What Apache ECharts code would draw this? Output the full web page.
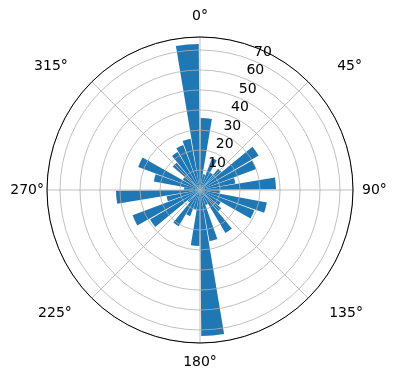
<!DOCTYPE html>
<html>
<head>
<meta charset="utf-8">
<script src="https://cdn.jsdelivr.net/npm/echarts@6/dist/echarts.min.js"></script>
<style>html,body{margin:0;padding:0;background:#fff}#c{width:396px;height:380px}</style>
</head>
<body>
<div id="c"></div>
<script>
// 36 direction sectors of 10 degrees, clockwise from north
var sectors = ['0','10','20','30','40','50','60','70','80','90','100','110','120','130','140','150','160','170',
  '180','190','200','210','220','230','240','250','260','270','280','290','300','310','320','330','340','350'];
var values = [36, 8, 17, 10, 14, 34, 30, 18, 38, 10, 34, 29, 12, 14, 25, 8, 26, 73,
  28, 10, 14, 21, 8, 29, 36, 17, 42, 8, 23.5, 33, 10, 18, 22, 24, 26, 73];
var radialTicks = [10, 20, 30, 40, 50, 60, 70];
var angleTicks = [0, 45, 90, 135, 180, 225, 270, 315];
var rMax = 76.5;

var chart = echarts.init(document.getElementById('c'), null, {renderer: 'canvas'});
var center = [200, 190], radius = 153;
var font = 'DejaVu Sans';
var fs = 14;
function pad(p) { return {padding: p, fontSize: fs, fontFamily: font, color: '#000'}; }
var angleRich = {
  a0: pad([0, 0, 14, 0]),
  a45: pad([0, 0, 8, 29]),
  a90: pad([0, 0, 0, 9]),
  a135: pad([8, 0, 0, 21]),
  a180: pad([12, 0, 0, 0]),
  a225: pad([8, 20, 0, 0]),
  a270: pad([0, 3, 0, 0]),
  a315: pad([0, 24, 8, 0])
};
chart.setOption({
  animation: false,
  polar: [
    {center: center, radius: radius},
    {center: [209.4, 181.5], radius: radius},
    {center: center, radius: radius}
  ],
  angleAxis: [
    {polarIndex: 0, type: 'value', min: 0, max: 360, interval: 45, startAngle: 90, clockwise: true, z: 5,
      axisLine: {show: true, lineStyle: {color: '#000', width: 1}},
      axisTick: {show: false},
      splitLine: {show: true, lineStyle: {color: '#b0b0b0', width: 0.8}},
      axisLabel: {show: true, margin: 0, color: '#000', fontSize: fs, fontFamily: font, rich: angleRich,
        formatter: function (v) { return angleTicks.indexOf(v) >= 0 ? '{a' + v + '|' + v + '°}' : ''; }}},
    {polarIndex: 1, type: 'value', min: 0, max: 360, startAngle: 67.5, clockwise: true,
      axisLine: {show: false}, axisTick: {show: false}, splitLine: {show: false}, axisLabel: {show: false}},
    {polarIndex: 2, type: 'category', data: sectors, startAngle: 90, clockwise: true, boundaryGap: true,
      axisLine: {show: false}, axisTick: {show: false}, splitLine: {show: false}, axisLabel: {show: false}}
  ],
  radiusAxis: [
    {polarIndex: 0, type: 'value', min: 0, max: rMax, interval: 10, z: 5,
      axisLine: {show: false}, axisTick: {show: false}, axisLabel: {show: false},
      splitLine: {show: true, lineStyle: {color: '#b0b0b0', width: 0.8}}},
    {polarIndex: 1, type: 'value', min: 0, max: rMax, interval: 10, z: 10,
      axisLine: {show: false}, axisTick: {show: false}, splitLine: {show: false},
      axisLabel: {show: true, color: '#000', fontSize: fs, fontFamily: font, margin: 0,
        align: 'center', verticalAlign: 'middle', rotate: 0,
        showMaxLabel: false,
        formatter: function (v) { return radialTicks.indexOf(v) >= 0 ? String(v) : ''; }}},
    {polarIndex: 2, type: 'value', min: 0, max: rMax,
      axisLine: {show: false}, axisTick: {show: false}, splitLine: {show: false}, axisLabel: {show: false}}
  ],
  series: [{
    type: 'bar', coordinateSystem: 'polar', polarIndex: 2,
    data: values, barCategoryGap: '10%', z: 2,
    itemStyle: {color: '#1f77b4'}
  }]
});
</script>
</body>
</html>
